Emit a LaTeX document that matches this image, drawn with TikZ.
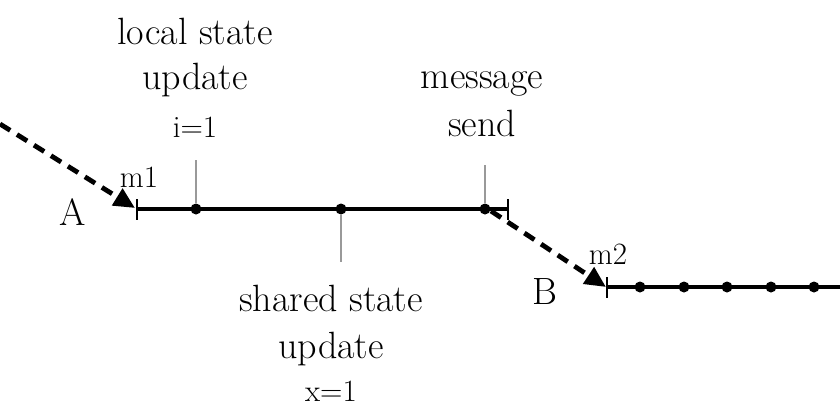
\documentclass[tikz,border=0pt]{standalone}
\usepackage{fontspec}
\setmainfont{Latin Modern Roman}
\usetikzlibrary{arrows.meta,calc}
\begin{document}
\begin{tikzpicture}[x=1pt,y=-1pt,
  timeline/.style={line width=3.2pt},
  tickmark/.style={line width=2.8pt},
  ev/.style={circle,fill=black,inner sep=0pt,minimum size=11pt},
  guide/.style={gray!80,line width=1.5pt},
  msg/.style={line width=4.8pt,dash pattern=on 12pt off 8pt},
  msgtip/.style={line width=4.8pt,solid,-{Triangle[length=21pt,width=19pt]}},
  big/.style={font=\fontsize{38}{43}\selectfont,inner sep=0pt,anchor=base},
  small/.style={font=\fontsize{31}{32}\selectfont,inner sep=0pt,anchor=base},
  lbl/.style={font=\fontsize{38}{43}\selectfont,inner sep=0pt,anchor=base}]
\useasboundingbox (0,0) rectangle (840,410);
% timeline A
\coordinate (a0) at (137,209);
\coordinate (a1) at (508,209);
\node[ev] (e1) at (196,209) {};
\node[ev] (e2) at (341,209) {};
\node[ev] (e3) at (485,209) {};
\draw[timeline] (a0) -- (a1);
\draw[tickmark] (137,199) -- (137,220);
\draw[tickmark] (508,199) -- (508,220);
% timeline B
\coordinate (b0) at (607,287);
\coordinate (b1) at (840,287);
\draw[timeline] (b0) -- (b1);
\draw[tickmark] (607,277) -- (607,298);
\foreach \x/\n in {640/f1,684/f2,727/f3,771/f4,814/f5} \node[ev] (\n) at (\x,287) {};
% messages
\coordinate (src) at (0,124);
\coordinate (m1end) at (135,208);
\draw[msg] (src) -- ($(m1end)!14pt!(src)$);
\draw[msgtip] ($(m1end)!18pt!(src)$) -- (m1end);
\coordinate (m2start) at (491,211);
\coordinate (m2end) at (606,287);
\draw[msg] (m2start) -- ($(m2end)!14pt!(m2start)$);
\draw[msgtip] ($(m2end)!18pt!(m2start)$) -- (m2end);
% labels
\node[big] (A) at (73,225) {A};
\node[big] (B) at (545,304) {B};
\node[small] (m1) at (139,187) {m1};
\node[small] (m2) at (608,264) {m2};
\node[lbl] (loc) at (195,44) {local state};
\node[lbl] (locu) at (195,89) {update};
\node[small] (i1) at (195,137) {i=1};
\node[lbl] (msg1) at (482,88) {message};
\node[lbl] (msg2) at (482,136) {send};
\node[lbl] (sh) at (331,311) {shared state};
\node[lbl] (shu) at (331,358) {update};
\node[small] (x1) at (331,401) {x=1};
% guides
\coordinate (g1) at (196,160);
\coordinate (g3) at (485,165);
\coordinate (g2) at (341,262);
\draw[guide] (g1) -- (e1);
\draw[guide] (g3) -- (e3);
\draw[guide] (e2) -- (g2);
\end{tikzpicture}
\end{document}
